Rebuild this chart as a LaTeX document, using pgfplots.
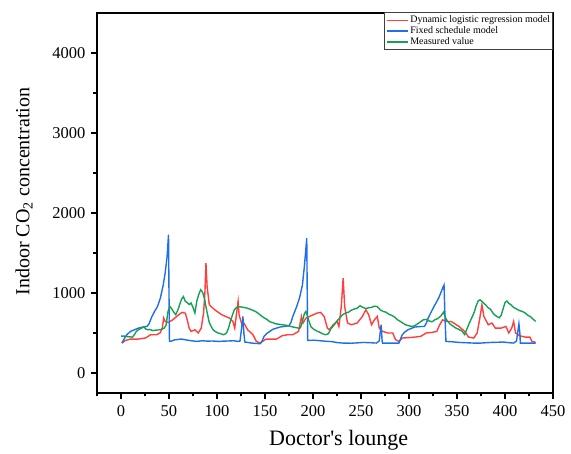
\documentclass[border=0pt]{standalone}
\usepackage{pgfplots}
\pgfplotsset{compat=1.18}
\usepackage{fontspec}
\setmainfont{Liberation Serif}
\definecolor{cred}{RGB}{255,62,62}
\definecolor{cblue}{RGB}{30,112,232}
\definecolor{cgreen}{RGB}{22,160,82}
\begin{document}
\begin{tikzpicture}
\begin{axis}[
  scale only axis, width=456pt, height=380pt,
  xmin=-25, xmax=450, ymin=-250, ymax=4500,
  xtick={0,50,...,450}, ytick={0,1000,...,4000},
  minor xtick={-25,25,75,...,425}, minor ytick={-500,500,1500,2500,3500},
  tick pos=left, tick align=outside,
  major tick length=6pt, minor tick length=3.5pt,
  every tick/.style={black, line width=1.1pt},
  axis line style={line width=1.3pt},
  /pgf/number format/assume math mode=true,
  /pgf/number format/1000 sep={},
  ticklabel style={font=\fontsize{16.5}{18}\selectfont},
  xticklabel style={yshift=-3pt},
  yticklabel style={xshift=-2pt},
  xlabel={Doctor\textquotesingle s lounge},
  ylabel={Indoor CO\textsubscript{2} concentration},
  xlabel style={font=\fontsize{22}{24}\selectfont, at={(axis description cs:0.53,-0.125)}, anchor=center},
  ylabel style={font=\fontsize{20}{22}\selectfont, at={(axis description cs:-0.16,0.53)}, anchor=center},
  clip=false,
  legend style={at={(1,1)}, anchor=north east, draw=black!75, line width=1pt,
    font=\fontsize{10}{11}\selectfont, inner sep=1pt, row sep=-1.5pt, outer sep=0pt},
  legend cell align=left,
  legend image code/.code={\draw[#1, line width=1.4pt] (0pt,0pt) -- (21pt,0pt);},
]
\path (rel axis cs:-0.2127,-0.1605) rectangle (rel axis cs:1.0395,1.0342);
\addplot[cred, line width=1.4pt] coordinates {
(1,374)(4.6,407)(10,424)(18,424)(25.5,437)(31,478)(37,478)(40.7,500)(43,561)(44.5,686)(46,644)(49.4,632)
(54,665)(60,728)(63.5,757)(67,748)(69,665)(71,561)(73,520)(77,540)(80.5,500)(83.6,561)(86,748)(87.4,998)
(88.5,1372)(89.7,1081)(92,852)(97.6,790)(105,728)(113,686)(116.6,644)(118.5,561)(120.4,748)(122,894)
(123,728)(126,603)(128,624)(132,540)(137.5,478)(141,395)(145,374)
(151,424)(162,424)(168,466)(173.6,478)(179,478)(185,520)(188,707)(189.6,624)(192.6,686)(196.4,707)
(204,748)(208,757)(211.6,707)(215,561)(217,540)(221,603)(225,644)(227,582)(229.5,832)(231.4,1185)
(233,832)(236,624)(240,603)(246,624)(251.5,707)(255,790)(258,728)(261,603)(264,665)(267,707)(269,561)
(272.5,520)(278,500)(283,500)(286,416)(289.5,395)
(293,437)(303,445)(312,457)(318,500)(324,507)(329,520)(332,603)(335,665)(339,644)(344,644)(352,582)
(358,520)(362,449)(367.5,437)(371,500)(373.5,665)(376,852)(378,707)(382.6,603)(386.4,624)(390,561)
(396,561)(401,582)(404,500)(407,561)(409,644)(411,500)(415,466)(421,449)(426,449)(428,395)(432,382)
};
\addlegendentry{Dynamic logistic regression model}
\addplot[cblue, line width=1.4pt] coordinates {
(1,374)(3,420)(6,478)(10,520)(14,540)(18,560)(22,572)(27,582)(29,610)(32,700)(35,770)(38,830)(41,935)
(44,1100)(46,1250)(48,1450)(49.5,1730)(50,1000)(50.5,395)(53,400)(56,415)(60,420)(63,424)(67,415)
(71,407)(75,400)(79,395)(85,403)(90,398)(95,400)(101,395)(107,398)(112,400)(117,403)(122,395)(124,400)
(126,600)(127,707)(128,500)(129,387)(133,380)(136,374)(140,370)(145,366)(147,400)(149,457)(152,495)
(155,520)(158,545)(162,561)(166,575)(170,582)(175,590)(177,630)(179,707)(183,830)(186,940)(189,1100)
(191,1330)(193.5,1684)(194,1000)(194.5,407)(200,410)(204,407)(210,400)(215,395)(220,392)(225,380)
(231,374)(240,372)(253,382)(260,378)(266,374)(269,400)(271,603)(272,400)(272.5,374)(280,374)
(289.5,374)(291,420)(293,478)(296,515)(299,540)(303,560)(306,574)(311,580)(316,582)(318,620)(320,686)
(323,760)(326,830)(329,894)(331,940)(333,998)(335,1060)(336.5,1100)(337.5,700)(338.5,395)(345,390)
(352,382)(360,378)(367,374)(375,374)(380,378)(386,382)(392,384)(398,387)(403,380)(409,374)(412,400)
(414.5,615)(415.5,500)(416,374)(420,374)(432,374)
};
\addlegendentry{Fixed schedule model}
\addplot[cgreen, line width=1.4pt] coordinates {
(0,460)(3,462)(6,455)(9,452)(12,448)(14,480)(16,520)(18,540)(20,552)(22,565)(24,575)(26,548)(28,540)
(30,545)(33,530)(36,535)(39,538)(42,545)(45,560)(47,600)(49,770)(51,830)(53,800)(55,760)(57,730)
(59,780)(61,850)(63,920)(65,955)(67,895)(69,880)(71,855)(73,875)(75,820)(77,750)(79,900)(81,980)
(83,1040)(85,1010)(87,930)(88,860)(90,740)(92,630)(94,580)(96,540)(98,520)(101,500)(104,490)(107,478)
(110,500)(112,560)(114,650)(116,720)(118,790)(120,815)(122,830)(125,825)(128,820)(131,812)(134,800)
(137,785)(140,770)(143,745)(146,715)(149,690)(152,670)(155,640)(158,630)(161,615)(164,610)(167,605)
(170,600)(173,595)(176,585)(179,575)(182,568)(185,560)(187,565)(189,650)(191,740)(192.6,770)(194,720)
(196,640)(198,575)(201,545)(204,525)(207,510)(210,490)(213,478)(216,490)(219,560)(222,600)(225,650)
(228,690)(231,730)(234,750)(237,760)(240,785)(243,800)(246,810)(249,840)(252,820)(255,805)(258,815)
(261,820)(264,835)(267,830)(270,790)(273,770)(276,760)(279,735)(282,720)(285,700)(288,665)(291,645)
(294,620)(297,600)(300,590)(303,582)(306,590)(309,615)(312,640)(315,665)(318,670)(321,650)(324,640)
(327,665)(330,680)(333,710)(336,760)(338,690)(340,650)(343,610)(346,585)(349,560)(352,545)(355,525)
(358,480)(360,540)(362,600)(365,680)(368,760)(370,840)(372,900)(374,915)(376,895)(378,870)(380,850)
(382,820)(385,795)(388,740)(391,710)(394,690)(396,720)(398,800)(400,880)(402,900)(404,870)(406,855)
(409,820)(412,800)(415,780)(418,770)(421,750)(424,720)(427,700)(430,665)(432,645)
};
\addlegendentry{Measured value}
\end{axis}
\end{tikzpicture}
\end{document}
